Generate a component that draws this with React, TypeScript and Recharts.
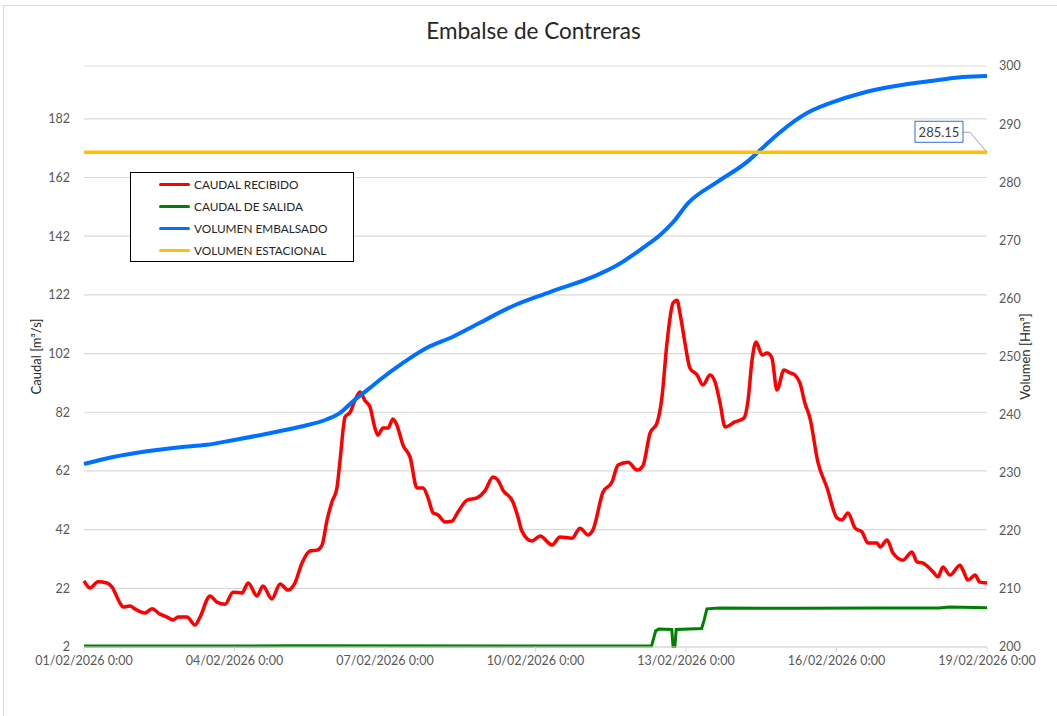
import React from 'react';
import { LineChart, Line, XAxis, YAxis, CartesianGrid } from 'recharts';

// tiempo en horas desde 01/02/2026 0:00
const recibidoHoras = [
  0, 2.9, 6.7, 11, 13.4, 17.2, 18.7, 22, 24.4, 29.2, 32.5, 36.4, 39.7, 42.6, 45, 49.3, 53.1, 55.5, 60.3, 63.6,
  67.5, 71.3, 75.6, 78.5, 82.8, 85.6, 89.9, 93.8, 97.6, 100.9, 104.3, 108.1, 111.5, 113.9, 116.3, 118.6, 121,
  122.5, 124.9, 127.3, 129.6, 132, 134.4, 136.8, 139.2, 140.6, 143, 145.4, 147.8, 149.7, 152.6, 156, 159.3,
  162.2, 164.6, 167, 169.4, 172.7, 176, 178.9, 183.2, 188, 191.8, 195.7, 198, 200.4, 205.2, 207.6, 209.5,
  214.3, 218.2, 223.9, 227.7, 233.5, 237.3, 241.1, 243.5, 248.3, 252.6, 255.5, 260.3, 264.6, 267.4, 270.8,
  274.1, 276.5, 278.9, 281.8, 283.7, 285.1, 287.5, 289.9, 293.3, 296.1, 299.5, 301.9, 304.3, 306.7, 311.4,
  315.7, 317.7, 319.6, 321.5, 324.4, 326.8, 329.1, 331.5, 334.9, 337.8, 340.1, 342.5, 344.9, 347.3, 351.1,
  355.5, 360.2, 362.6, 365.5, 368.9, 372.2, 375.1, 379.4, 380.8, 384.2, 387, 391.8, 396.1, 398.5, 401.4,
  406.2, 408.6, 410.9, 414.3, 419.1, 420.5, 422.9, 426.3, 428.6, 432,
];
const recibidoValores = [
  24.5, 22.1, 24.2, 23.8, 22.4, 17, 15.6, 16, 15, 13.6, 15, 13.2, 12.2, 11.2, 12.2, 12.2, 9.5, 12.2, 19.4, 17.3,
  16.6, 20.7, 20.4, 23.8, 19.4, 22.8, 18.4, 23.5, 21.4, 23.8, 30.6, 34.7, 35, 36.8, 45.3, 51.4, 56.2,
  65.7, 80.4, 82, 86, 88.9, 86, 83.8, 76.6, 74.2, 76.6, 76.6, 79.7, 77.6, 70.8, 66.7, 56.2,
  56.2, 52.8, 47.7, 47, 44.6, 44.9, 48, 52, 52.8, 55.2, 59.9, 58.9, 55.5, 51.4, 46.3, 41.5,
  38.1, 39.8, 36.8, 39.5, 39.1, 42.5, 40.2, 41.9, 54.8, 58.2, 64, 65, 62.3, 63.8, 74.9,
  78.3, 87.2, 105.6, 119.2, 120.2, 115.8, 105.6, 97, 94.7, 91.3, 94.7, 92.3, 85.1, 77, 78.7,
  80, 86.2, 99.8, 105.9, 101.5, 102.2, 100.5, 89.6, 96.4, 95.4, 94.7, 92, 85.1, 80, 65,
  56.2, 46, 45.3, 47.7, 42.5, 41.2, 37.4, 37.4, 36.1, 38.5, 34, 31.6, 34.4, 31, 30.6,
  27.6, 25.9, 29.3, 26.5, 29.9, 28.2, 24.8, 26.5, 24.1, 23.8,
];

const salidaHoras = [0, 100, 200, 271.5, 273.5, 275, 281.2, 281.8, 282.7, 283.3, 295.5, 296.6, 298, 304, 340, 380, 409, 414, 432];
const salidaValores = [2.3, 2.4, 2.3, 2.3, 7.5, 8.1, 8.0, 2.2, 2.2, 8.0, 8.3, 11, 15, 15.3, 15.2, 15.3, 15.3, 15.6, 15.4];

const volumenHoras = [
  0, 13.9, 30.1, 45.9, 58.8, 71.3, 87.5, 103.3, 116.3, 122.5, 128.7, 136.8, 141.6, 152.6, 164.1, 176.5, 189.4,
  205.2, 222.9, 245.4, 255, 267.4, 275.6, 281.8, 289, 302.8, 317.2, 323.4, 333, 345.9, 356.9, 372.7,
  388.9, 404.7, 420.5, 432,
];
const volumenValores = [
  231.5, 232.7, 233.7, 234.4, 234.8, 235.6, 236.7, 237.9, 239.2, 240.3, 242.3, 244.6, 246, 248.9, 251.5, 253.4, 255.8,
  258.7, 261.1, 264, 265.7, 268.7, 270.9, 273.1, 276.4, 280, 283.5, 285.5, 288.6, 291.9, 293.6, 295.4,
  296.6, 297.4, 298.1, 298.3,
];

const estacionalHoras = [0, 432];
const estacionalValores = [285.15, 285.15];

const xTicks = [0, 72, 144, 216, 288, 360, 432];
const xTickLabels = [
  '01/02/2026 0:00', '04/02/2026 0:00', '07/02/2026 0:00', '10/02/2026 0:00',
  '13/02/2026 0:00', '16/02/2026 0:00', '19/02/2026 0:00',
];
const caudalTicks = [2, 22, 42, 62, 82, 102, 122, 142, 162, 182];
const volumenTicks = [200, 210, 220, 230, 240, 250, 260, 270, 280, 290, 300];

const series = [
  { name: 'CAUDAL RECIBIDO', color: '#ff0000' },
  { name: 'CAUDAL DE SALIDA', color: '#008000' },
  { name: 'VOLUMEN EMBALSADO', color: '#0070ff' },
  { name: 'VOLUMEN ESTACIONAL', color: '#ffc000' },
];

const toRows = (h: number[], v: number[]) => h.map((t, i) => ({ t, v: v[i] }));

const FONT = 'Lato, "Open Sans", sans-serif';

const EstacionalLabel = (props: any) => {
  const { x, y, index, value } = props;
  if (index !== estacionalHoras.length - 1) return null;
  return (
    <g>
      <polyline points={`${x - 24},${y - 20} ${x - 17},${y - 20} ${x},${y}`} fill="none" stroke="#a6a6a6" strokeWidth={1} />
      <rect x={x - 72} y={y - 31} width={48} height={21} fill="#fff" stroke="#2f6fd6" strokeWidth={1} />
      <text x={x - 48} y={y - 20} textAnchor="middle" dominantBaseline="central" fill="#404040" fontSize={13} fontFamily={FONT}>
        {Number(value).toFixed(2)}
      </text>
    </g>
  );
};

const LegendBox = () => (
  <div style={{ position: 'absolute', left: 130, top: 172, width: 224, height: 90, border: '1px solid #000', background: '#fff', boxSizing: 'border-box', paddingTop: 1 }}>
    {series.map((s) => (
      <div key={s.name} style={{ display: 'flex', alignItems: 'center', height: 21.8 }}>
        <span style={{ display: 'inline-block', width: 31, height: 3, background: s.color, borderRadius: 2, marginLeft: 28, marginRight: 4 }} />
        <span style={{ fontSize: 11.8, color: '#262626', fontFamily: FONT }}>{s.name}</span>
      </div>
    ))}
  </div>
);

const App: React.FC = () => {
  const tickStyle = { fontSize: 12.5, fill: '#595959', fontFamily: FONT };
  return (
    <div style={{ position: 'absolute', left: 0, top: 0, width: 1057, height: 716, background: '#fff', overflow: 'hidden' }}>
      <div style={{ position: 'absolute', left: 3, top: 5, width: 1070, height: 730, border: '1px solid #d9d9d9' }} />
      <div style={{ position: 'absolute', left: 0, top: 17, width: 1067, textAlign: 'center', fontFamily: FONT, fontSize: 22.5, color: '#262626' }}>
        Embalse de Contreras
      </div>
      <LineChart width={1057} height={716} margin={{ top: 66, right: 0, bottom: 39, left: 0 }} style={{ position: 'absolute', left: 0, top: 0 }}>
        <CartesianGrid yAxisId="left" vertical={false} stroke="#d9d9d9" strokeWidth={1.2} />
        <XAxis
          dataKey="t"
          type="number"
          domain={[0, 432]}
          ticks={xTicks}
          height={30}
          tickFormatter={(v: number) => xTickLabels[xTicks.indexOf(v)] ?? ''}
          stroke="#d9d9d9"
          tickSize={5}
          tickMargin={4}
          tick={tickStyle}
          allowDuplicatedCategory={false}
        />
        <YAxis
          yAxisId="left"
          width={84}
          domain={[2, 200]}
          ticks={caudalTicks}
          axisLine={false}
          tickLine={false}
          tickSize={0}
          tickMargin={14}
          tick={tickStyle}
          label={{ value: 'Caudal [m³/s]', angle: -90, position: 'insideLeft', offset: 36, style: { textAnchor: 'middle', fontSize: 13, fill: '#262626', fontFamily: FONT } }}
        />
        <YAxis
          yAxisId="right"
          orientation="right"
          width={70}
          domain={[200, 300]}
          ticks={volumenTicks}
          axisLine={false}
          tickLine={false}
          tickSize={0}
          tickMargin={12}
          tick={tickStyle}
          label={{ value: 'Volumen [Hm³]', angle: -90, position: 'insideRight', offset: 32, style: { textAnchor: 'middle', fontSize: 13, fill: '#262626', fontFamily: FONT } }}
        />
        <Line yAxisId="left" data={toRows(recibidoHoras, recibidoValores)} dataKey="v" name={series[0].name} type="monotone" stroke={series[0].color} strokeWidth={3.5} dot={false} isAnimationActive={false} />
        <Line yAxisId="left" data={toRows(salidaHoras, salidaValores)} dataKey="v" name={series[1].name} type="linear" stroke={series[1].color} strokeWidth={3} dot={false} isAnimationActive={false} />
        <Line yAxisId="right" data={toRows(volumenHoras, volumenValores)} dataKey="v" name={series[2].name} type="monotone" stroke={series[2].color} strokeWidth={4} dot={false} isAnimationActive={false} />
        <Line yAxisId="right" data={toRows(estacionalHoras, estacionalValores)} dataKey="v" name={series[3].name} type="linear" stroke={series[3].color} strokeWidth={3.5} dot={false} isAnimationActive={false} label={<EstacionalLabel />} />
      </LineChart>
      <LegendBox />
    </div>
  );
};

export default App;
